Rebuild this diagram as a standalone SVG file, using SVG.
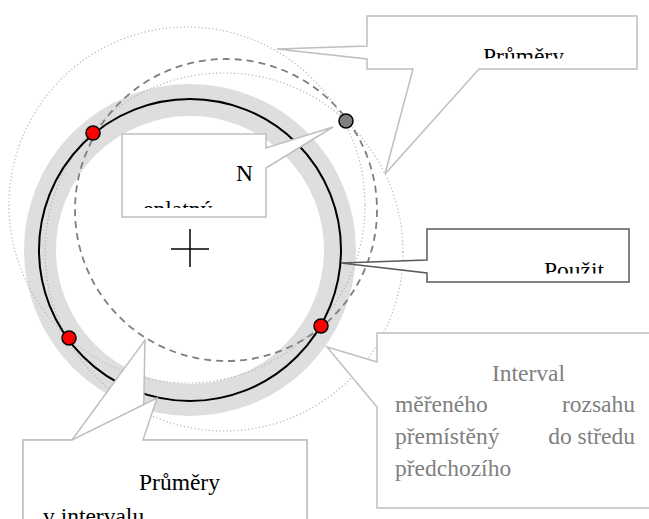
<svg xmlns="http://www.w3.org/2000/svg" width="649" height="519" viewBox="0 0 649 519">
<style>
.band{fill:none;stroke:#dedede;stroke-width:32}
.dot{fill:none;stroke:#b4b4b4;stroke-width:1.2;stroke-dasharray:1.2 2.4}
.dash{fill:none;stroke:#7f7f7f;stroke-width:1.8;stroke-dasharray:7 5}
.main{fill:none;stroke:#000;stroke-width:2}
.pt{stroke:#000;stroke-width:1.5}
.co{fill:#fff;stroke:#bfbfbf;stroke-width:1.5}
.cod{fill:#fff;stroke:#5a5a5a;stroke-width:1.5}
.t{font-family:"Liberation Serif","Times New Roman",serif;font-size:23.5px;fill:#000}
.tg{fill:#7f7f7f}
</style>
<defs>
<clipPath id="c1"><rect x="367" y="16" width="270" height="42.5"/></clipPath>
<clipPath id="c2"><rect x="122" y="134" width="144" height="74"/></clipPath>
<clipPath id="c3"><rect x="427" y="229" width="202" height="44.5"/></clipPath>
</defs>
<g id="circles">
<circle class="band" cx="190" cy="250" r="150"/>
<circle class="dot" cx="187" cy="205" r="178"/>
<circle class="dot" cx="224" cy="252" r="179"/>
<circle class="dash" cx="226" cy="210" r="151"/>
<circle class="main" cx="190" cy="250" r="151"/>
<g id="center-cross" stroke="#000" stroke-width="1.5">
<line x1="171" y1="249" x2="209" y2="249"/>
<line x1="190" y1="229" x2="190" y2="267"/>
</g>
</g>
<g id="points">
<circle class="pt" cx="93" cy="133" r="7" fill="#ff0000"/>
<circle class="pt" cx="69" cy="338" r="7" fill="#ff0000"/>
<circle class="pt" cx="321" cy="326" r="7" fill="#ff0000"/>
<circle class="pt" cx="346" cy="121" r="7" fill="#808080"/>
</g>
<g id="connectors">
<!-- callout tails are part of the callout shapes below -->
</g>
<g id="callout-prumery-top">
<polygon class="co" points="367,16 637,16 637,69 479,69 385,174 413,69 367,69 367,59 277,49 367,46"/>
<g clip-path="url(#c1)"><text class="t" x="483" y="64">Průměry</text></g>
</g>
<g id="callout-neplatny">
<polygon class="co" points="122,134 266,134 266,148 333,127 266,168 266,217 122,217"/>
<g clip-path="url(#c2)">
<text class="t" x="236" y="181">N</text>
<text class="t" x="143" y="217">eplatný</text>
</g>
</g>
<g id="callout-pouzit">
<polygon class="cod" points="427,229 629,229 629,282 427,282 427,273 341,263 427,260"/>
<g clip-path="url(#c3)"><text class="t" x="544" y="278">Použit</text></g>
</g>
<g id="callout-interval">
<polygon class="co" points="377,333 660,333 660,508 377,508 377,407 327,347 377,362"/>
<text class="t tg" x="492" y="381">Interval</text>
<text class="t tg" x="395" y="412">měřeného</text>
<text class="t tg" x="635" y="412" text-anchor="end">rozsahu</text>
<text class="t tg" x="395" y="444">přemístěný</text>
<text class="t tg" x="635" y="444" text-anchor="end">do středu</text>
<text class="t tg" x="395" y="476">předchozího</text>
</g>
<g id="callout-prumery-bottom">
<polygon class="co" points="23,440 72,440 145,340 143,440 307,440 307,530 23,530"/>
<polygon class="co" points="23,440 72,440 157,398 143,440 307,440 307,530 23,530"/>
<text class="t" x="139" y="490">Průměry</text>
<text class="t" x="43" y="524">v intervalu</text>
</g>
</svg>
